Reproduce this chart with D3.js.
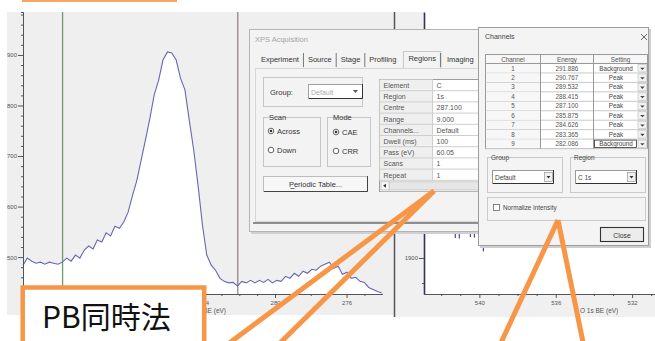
<!DOCTYPE html>
<html><head><meta charset="utf-8">
<script src="https://cdn.jsdelivr.net/npm/d3@7"></script>
<style>body{margin:0;background:#fff}svg{display:block}</style>
</head><body><svg id="c" width="655" height="341"></svg>
<script>
// ---------- DATA ----------
const energies=[294.10,293.86,293.61,293.37,293.12,292.88,292.63,292.39,292.14,291.90,
291.65,291.41,291.16,290.92,290.67,290.43,290.18,289.94,289.69,289.45,
289.20,288.96,288.71,288.47,288.22,287.98,287.73,287.49,287.25,287.00,
286.76,286.51,286.27,286.02,285.78,285.53,285.29,285.04,284.80,284.55,
284.31,284.06,283.82,283.57,283.33,283.08,282.84,282.59,282.35,282.10,
281.86,281.61,281.37,281.12,280.88,280.64,280.39,280.15,279.90,279.66,
279.41,279.17,278.92,278.68,278.43,278.19,277.94,277.70,277.45,277.21,
276.96,276.72,276.47,276.23,275.98,275.74,275.49,275.25,275.00,274.76,
274.51,274.27,274.03];
const counts=[484,498,492,488,490,486,490,488,486,490,
498,492,504,498,514,522,516,534,530,548,
542,561,557,569,589,621,652,692,732,775,
821,850,890,906,904,890,854,831,771,712,
643,563,504,484,474,458,452,449,450,443,
452,449,454,449,454,450,456,449,454,452,
462,458,468,462,472,468,476,474,482,486,
490,478,482,466,470,458,460,452,450,440,
436,432,429];
const yTicks=[500,600,700,800,900];
const xTicks=[284,280,276];
const o1sEnergy=[541.26,541.05,540.47,540.26,539.79,538.38];
const o1sCounts=[1946,1944,1948,1946,1920,1930];
const o1sErr=[6,5,6,5,7,3];
const o1sYTicks=[1900];
const o1sXTicks=[540,536,532];
const tabNames=["Experiment","Source","Stage","Profiling","Regions","Imaging"];
const propLabels=["Element","Region","Centre","Range","Channels...","Dwell (ms)","Pass (eV)","Scans","Repeat"];
const propValues=["C","1s","287.100","9.000","Default","100","60.05","1","1"];
const channelNo=[1,2,3,4,5,6,7,8,9];
const channelEnergy=[291.886,290.767,289.532,288.415,287.100,285.875,284.626,283.365,282.086];
const channelSetting=["Background","Peak","Peak","Peak","Peak","Peak","Peak","Peak","Background"];
const title="PB同時法";

// ---------- DRAW ----------
const svg=d3.select("#c");
const F="'Liberation Sans', Arial, sans-serif";
const OR="#f79646";
svg.append("rect").attr("width",655).attr("height",341).attr("fill","#fff");

function t(g,x,y,s,size,fill,anchor){
  return g.append("text").attr("x",x).attr("y",y).text(s).attr("font-family",F)
   .attr("font-size",size).attr("fill",fill||"#444").attr("text-anchor",anchor||"start");
}
function r(g,x,y,w,h,fill,stroke,sw){
  return g.append("rect").attr("x",x).attr("y",y).attr("width",w).attr("height",h)
   .attr("fill",fill||"none").attr("stroke",stroke||"none").attr("stroke-width",sw||1);
}
function styleAxis(g,size){
  g.selectAll("path,line").attr("stroke","#555");
  g.selectAll("text").attr("font-family",F).attr("font-size",size||6).attr("fill","#555");
}

// left panel
r(svg,7,12,388,303,"#efefef");
const x=d3.scaleLinear().domain([294.1,274.0]).range([23,382.3]);
const y=d3.scaleLinear().domain([427,985]).range([294,12]);
const pts=energies.map((e,i)=>[e,counts[i]]);
svg.append("path").datum(pts).attr("fill","#fff")
  .attr("d",d3.area().x(d=>x(d[0])).y0(y(427)).y1(d=>y(d[1])));
[[channelEnergy[0],"#6f9a6f"],[channelEnergy[8],"#978585"]].forEach(([e,c])=>{
  svg.append("line").attr("x1",x(e)).attr("x2",x(e)).attr("y1",12).attr("y2",294)
   .attr("stroke",c).attr("stroke-width",1.3);
});
svg.append("path").datum(pts).attr("fill","none").attr("stroke","#6767b0").attr("stroke-width",1.1)
  .attr("d",d3.line().x(d=>x(d[0])).y(d=>y(d[1])));
const ya=svg.append("g").attr("transform","translate(23,0)")
  .call(d3.axisLeft(y).tickValues(yTicks).tickSize(5).tickSizeOuter(0).tickPadding(1).tickFormat(d3.format("d")));
styleAxis(ya,6);
const ym=svg.append("g").attr("transform","translate(23,0)")
  .call(d3.axisLeft(y).tickValues(d3.range(440,985,20).filter(v=>v%100)).tickSize(2).tickFormat(""));
styleAxis(ym);
const xa=svg.append("g").attr("transform","translate(0,294)")
  .call(d3.axisBottom(x).tickValues(xTicks).tickSize(4).tickSizeOuter(0).tickPadding(3).tickFormat(d3.format("d")));
styleAxis(xa,6);
const xm=svg.append("g").attr("transform","translate(0,294)")
  .call(d3.axisBottom(x).tickValues(d3.range(275,294,1).filter(v=>!xTicks.includes(v))).tickSize(2).tickSizeOuter(0).tickFormat(""));
styleAxis(xm);
t(svg,226,313,"BE (eV)",6.5,"#555","end");

// right panel
r(svg,395,12,260,305,"#f0f0f0");
r(svg,424,12,231,282,"#fff");
const xR=d3.scaleLinear().domain([542.9,530.8]).range([424,655]);
const yR=d3.scaleLinear().domain([1828,2392]).range([294,12]);
const ra=svg.append("g").attr("transform","translate(0,294)")
  .call(d3.axisBottom(xR).tickValues(o1sXTicks).tickSize(4).tickSizeOuter(0).tickPadding(3).tickFormat(d3.format("d")));
styleAxis(ra,6);
const rm=svg.append("g").attr("transform","translate(0,294)")
  .call(d3.axisBottom(xR).tickValues(d3.range(531,543,1).filter(v=>!o1sXTicks.includes(v))).tickSize(2).tickSizeOuter(0).tickFormat(""));
styleAxis(rm);
const rya=svg.append("g").attr("transform","translate(424,0)")
  .call(d3.axisLeft(yR).tickValues(o1sYTicks).tickSize(5).tickSizeOuter(0).tickPadding(1).tickFormat(d3.format("d")));
styleAxis(rya,6);
rya.select("path").attr("stroke","#33335c").attr("stroke-width",1.6);
const rym=svg.append("g").attr("transform","translate(424,0)")
  .call(d3.axisLeft(yR).tickValues(d3.range(1850,2392,50).filter(v=>v!==1900)).tickSize(2).tickFormat(""));
styleAxis(rym); rym.select("path").remove();
o1sEnergy.forEach((e,i)=>{
  const cx=xR(e),y1=yR(o1sCounts[i]+o1sErr[i]),y2=yR(o1sCounts[i]-o1sErr[i]);
  svg.append("line").attr("x1",cx).attr("x2",cx).attr("y1",y1).attr("y2",y2).attr("stroke","#4a4a9c").attr("stroke-width",1.2);
  svg.append("line").attr("x1",cx-1.5).attr("x2",cx+1.5).attr("y1",y1).attr("y2",y1).attr("stroke","#4a4a9c").attr("stroke-width",1);
});
t(svg,580,313,"O 1s  BE (eV)",6.5,"#555");
svg.append("line").attr("x1",394.5).attr("x2",394.5).attr("y1",12).attr("y2",317).attr("stroke","#555").attr("stroke-width",1.5);

// ---------- XPS Acquisition dialog ----------
const d1=svg.append("g");
r(d1,251,31,235,203,"#d0d0d0");
r(d1,249.5,29.5,235,202,"#f3f3f3","#b4b4b4");
t(d1,255,42,"XPS Acquisition",7.5,"#a5a5a5");
// tabs
let tx=261;
const tabY=62;
tabNames.forEach((n,i)=>{
  const el=t(d1,tx,tabY-(n==="Regions"?1:0),n,7.5,"#333");
  const w=el.node().getComputedTextLength();
  if(n==="Regions"){
    r(d1,tx-5,51.5,w+10,17,"none","#c8c8c8");
    el.raise();
  }
  if(i<tabNames.length-1 && n!=="Profiling" && tabNames[i+1]!=="Regions"){
    d1.append("line").attr("x1",tx+w+4.5).attr("x2",tx+w+4.5).attr("y1",53).attr("y2",67).attr("stroke","#777").attr("stroke-width",1);
  }
  tx+=w+(n==="Profiling"?12:(n==="Regions"?11:9));
});
r(d1,255.5,68.5,240,153,"none","#d6d6d6");
d1.append("line").attr("x1",253).attr("x2",486).attr("y1",223).attr("y2",223).attr("stroke","#6e6e6e").attr("stroke-width",1.5);
// group box
r(d1,263.5,77.5,99,29,"none","#c6c6c6");
t(d1,270,95,"Group:",7.5,"#333");
r(d1,308.5,84.5,54,14,"#fff","#a0a0a0");
d1.append("path").attr("d","M309,98.5H362.5V84").attr("stroke","#333").attr("fill","none");
t(d1,311,94.5,"Default",7,"#aaa");
d1.append("path").attr("d","M353,90l2.5,3l2.5,-3z").attr("fill","#555");
// scan / mode groups
function groupBox(g,x0,y0,w,h,label){
  r(g,x0+.5,y0+.5,w,h,"none","#c6c6c6");
  const lt=t(g,x0+6,y0+3,label,7.5,"#333");
  const lw=lt.node().getComputedTextLength();
  r(g,x0+4,y0-3,lw+4,6,"#f3f3f3").lower();
  lt.raise();
}
const gb=d1.append("g");
groupBox(gb,263,117,57,49,"Scan");
groupBox(gb,327,117,43,49,"Mode");
function radio(g,cx,cy,sel,label){
  g.append("circle").attr("cx",cx).attr("cy",cy).attr("r",2.8).attr("fill","#fff").attr("stroke","#555").attr("stroke-width",.9);
  if(sel) g.append("circle").attr("cx",cx).attr("cy",cy).attr("r",1.3).attr("fill","#333");
  t(g,cx+6,cy+2.6,label,7.5,"#333");
}
radio(d1,271,131,true,"Across");
radio(d1,271,150,false,"Down");
radio(d1,336,132,true,"CAE");
radio(d1,336,151,false,"CRR");
// periodic table button
r(d1,263.5,176.5,104,15,"#f7f7f7","#bdbdbd");
d1.append("path").attr("d","M264,191.5H367.5V176").attr("stroke","#444").attr("fill","none");
t(d1,315.5,187,"Periodic Table...",7.5,"#333","middle");
d1.append("line").attr("x1",290.5).attr("x2",294.5).attr("y1",188.5).attr("y2",188.5).attr("stroke","#333").attr("stroke-width",.7);
// property grid
const gx=379.5,gy=79.5,rh=11.2,colX=432.5;
r(d1,gx,gy,110,112,"#fff","#9c9c9c");
r(d1,gx,gy,colX-gx,rh*9,"#efefef");
propLabels.forEach((l,i)=>{
  const yy=gy+rh*(i+1);
  d1.append("line").attr("x1",gx).attr("x2",gx+110).attr("y1",yy).attr("y2",yy).attr("stroke","#cfcfcf");
  t(d1,gx+4,gy+rh*i+8.4,l,7,"#555");
  t(d1,colX+4,gy+rh*i+8.4,propValues[i],7,"#555");
});
d1.append("line").attr("x1",colX).attr("x2",colX).attr("y1",gy).attr("y2",gy+rh*9).attr("stroke","#cfcfcf");
r(d1,gx+1,gy+rh*9+1,110,10,"#f0f0f0");
r(d1,gx+1.5,gy+rh*9+1.5,8,8,"#fafafa","#ccc");
d1.append("path").attr("d",`M${gx+3.5},${gy+rh*9+5.5}l3,-2v4z`).attr("fill","#333");
r(d1,gx+10,gy+rh*9+1.5,120,8,"#e6e6e6","#d0d0d0");

// ---------- Channels dialog ----------
const d2=svg.append("g");
r(d2,480,29,171,219,"#cfcfcf");
r(d2,478.5,27.5,170,218,"#f4f4f4","#9d9d9d");
t(d2,485,39,"Channels",7,"#444");
d2.append("path").attr("d","M641,34l6,6M647,34l-6,6").attr("stroke","#555").attr("stroke-width",.9);
const tX=[485.5,540.5,593.5,647.5], tY0=54.5, hh=9, rr=9.45;
r(d2,tX[0],tY0,tX[3]-tX[0],hh+rr*9,"#fff","#999");
r(d2,tX[0],tY0,tX[3]-tX[0],hh,"#f7f7f7","#999");
["Channel","Energy","Setting"].forEach((h,j)=>t(d2,(tX[j]+tX[j+1])/2,tY0+7,h,6.3,"#555","middle"));
channelNo.forEach((c,i)=>{
  const y0=tY0+hh+rr*i;
  d2.append("line").attr("x1",tX[0]).attr("x2",tX[3]).attr("y1",y0+rr).attr("y2",y0+rr).attr("stroke","#c9c9c9");
  r(d2,tX[0]+.5,y0+.5,tX[1]-tX[0]-1,rr-1,"#f7f7f7");
  t(d2,(tX[0]+tX[1])/2,y0+7,String(c),6.3,"#555","middle");
  t(d2,(tX[1]+tX[2])/2,y0+7,channelEnergy[i].toFixed(3),6.3,"#555","middle");
  t(d2,(tX[2]+tX[3]-9)/2,y0+7,channelSetting[i],6.3,"#444","middle");
  r(d2,tX[3]-9.5,y0+1,8.5,rr-2,"#f2f2f2","#bbb",.6);
  d2.append("path").attr("d",`M${tX[3]-7.3},${y0+4.2}l2.2,2.3l2.2,-2.3z`).attr("fill","#444");
  if(i===8) r(d2,tX[2]+1,y0+1,tX[3]-tX[2]-12,rr-2,"none","#333",.8);
});
[[0,1],[1,2],[2,3]].forEach(([a])=>{});
[tX[1],tX[2]].forEach(xx=>d2.append("line").attr("x1",xx).attr("x2",xx).attr("y1",tY0).attr("y2",tY0+hh+rr*9).attr("stroke","#999"));
// group / region boxes
function gbox(g,x0,y0,w,h,label,val){
  r(g,x0+.5,y0+.5,w,h,"none","#c9c9c9");
  const lt=t(g,x0+4,y0+3,label,6.5,"#444");
  const lw=lt.node().getComputedTextLength();
  r(g,x0+3,y0-3,lw+3,6,"#f4f4f4").lower();
  lt.raise();
  r(g,x0+5.5,y0+13.5,w-14,13,"#fff","#999");
  g.append("path").attr("d",`M${x0+6},${y0+26.5}H${x0+w-8.5}V${y0+13}`).attr("stroke","#333").attr("fill","none");
  t(g,x0+8,y0+23,val,6.5,"#444");
  r(g,x0+w-17.5,y0+15.5,8,9,"#f0f0f0","#888",.6);
  g.append("path").attr("d",`M${x0+w-15.5},${y0+19}l2,2.5l2,-2.5z`).attr("fill","#333");
}
gbox(d2,487,157,75,35,"Group","Default");
gbox(d2,570,157,75,35,"Region","C 1s");
r(d2,487.5,197.5,158,23,"none","#cbcbcb");
r(d2,493.5,204.5,6,6,"#fff","#666",.8);
t(d2,503,210,"Normalize Intensity",6.3,"#444");
r(d2,600.5,227.5,43,14,"#ececec","#333",1.1);
t(d2,622,237.5,"Close",6.8,"#333","middle");

// ---------- orange annotations ----------
r(svg,22,0,155,2,"#f8a464");
const ann=svg.append("g").attr("stroke",OR).attr("stroke-width",5).attr("fill","none");
ann.append("line").attr("x1",434).attr("y1",191).attr("x2",224).attr("y2",347);
ann.append("line").attr("x1",434).attr("y1",191).attr("x2",276).attr("y2",347);
ann.append("line").attr("x1",558).attr("y1",220).attr("x2",499).attr("y2",347);
ann.append("line").attr("x1",558).attr("y1",220).attr("x2",584).attr("y2",347);
r(svg,22.7,287.5,181.5,70,"#fff",OR,4.5);
svg.append("text").attr("x",42).attr("y",328).text(title)
  .attr("font-family","'Noto Sans CJK JP','Noto Sans',sans-serif").attr("font-size",30).attr("fill","#111");
</script></body></html>
